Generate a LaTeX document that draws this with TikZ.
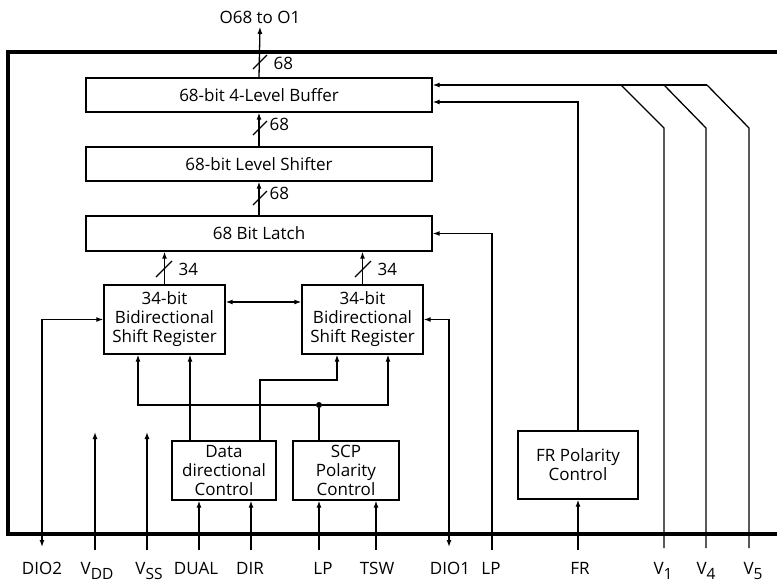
\documentclass[tikz,border=0pt]{standalone}
\usepackage{fontspec}
\setmainfont{Open Sans}
\usetikzlibrary{arrows.meta}
\newcommand{\lowsub}[1]{\raisebox{-5pt}{\fontsize{15.5}{15.5}\selectfont #1}}

\begin{document}
\begin{tikzpicture}[
	x=1pt, y=-1pt,
	font=\fontsize{17}{19}\selectfont,
	block/.style={
		draw,
		line width=1.4pt,
		align=center,
		inner sep=0pt
	},
	% connector styles
	wire/.style={
		draw,
		line width=1.3pt
	},
	sig/.style={wire, -{Latex[length=7pt,width=5pt]}},
	bisig/.style={wire, {Latex[length=7pt,width=5pt]}-{Latex[length=7pt,width=5pt]}},
	frame/.style={draw, line width=3.2pt},
	pin/.style={inner sep=0pt, anchor=base},
	junction/.style={circle, fill, inner sep=0pt, minimum size=6pt}
	]
	
	\useasboundingbox (0,0) rectangle (777,584);
	
	% ================= FRAME =================
	\draw[frame] (790,52) -- (8,52) -- (8,534) -- (790,534);
	
	% ================= NODES =================
	\node[block, minimum width=346pt, minimum height=34pt] (buf) at (259,95) {68-bit 4-Level Buffer};
	\node[block, minimum width=346pt, minimum height=34pt] (shift) at (259,164) {68-bit Level Shifter};
	\node[block, minimum width=346pt, minimum height=35pt] (latch) at (259,233.5) {68 Bit Latch};
	
	\node[block, minimum width=121pt, minimum height=69pt] (srl) at (164.5,319.5) {34-bit\\Bidirectional\\Shift Register};
	\node[block, minimum width=121pt, minimum height=69pt] (srr) at (362.5,319.5) {34-bit\\Bidirectional\\Shift Register};
	
	\node[block, minimum width=104pt, minimum height=59pt] (ddc) at (224,470.5) {Data\\directional\\Control};
	\node[block, minimum width=106pt, minimum height=59pt] (scp) at (346,470.5) {SCP\\Polarity\\Control};
	\node[block, minimum width=120pt, minimum height=68pt] (frp) at (578,465) {FR Polarity\\Control};
	
	\node (out) at (260,17) {O68 to O1};
	\node[junction] (jn) at (319,405) {};
	
	% pin ends
	\coordinate (dio2) at (42,547);
	\coordinate (vdd) at (95,550);
	\coordinate (vss) at (147,550);
	\coordinate (dual) at (199,550);
	\coordinate (dir) at (251,550);
	\coordinate (lp1) at (319,550);
	\coordinate (tsw) at (376,550);
	\coordinate (dio1) at (449,547);
	\coordinate (lp2) at (492,550);
	\coordinate (fr) at (578,550);
	\coordinate (v1) at (664,548);
	\coordinate (v4) at (706,548);
	\coordinate (v5) at (749,548);
	\coordinate (vtop) at (707,85);
	\coordinate (ddbend) at (337,380);
	
	% pin labels
	\node[pin] at (42,574) {DIO2};
	\node[pin] at (97,574) {V\lowsub{DD}};
	\node[pin] at (149,574) {V\lowsub{SS}};
	\node[pin] at (196,574) {DUAL};
	\node[pin] at (250,574) {DIR};
	\node[pin] at (323,574) {LP};
	\node[pin] at (377,574) {TSW};
	\node[pin] at (450,574) {DIO1};
	\node[pin] at (491,574) {LP};
	\node[pin] at (580,574) {FR};
	\node[pin] at (663,574) {V\lowsub{1}};
	\node[pin] at (706,574) {V\lowsub{4}};
	\node[pin] at (753,574) {V\lowsub{5}};
	
	% ================= EDGES =================
	\draw[sig] (buf.north) -- (out.south);
	\draw[sig] (shift.north) -- (buf.south);
	\draw[sig] (latch.north) -- (shift.south);
	\draw[sig] (srl.north) -- (srl.north |- latch.south);
	\draw[sig] (srr.north) -- (srr.north |- latch.south);
	\draw[bisig] ([yshift=17.5pt]srl.east) -- ([yshift=17.5pt]srr.west);
	
	% bus width marks
	\draw[wire] (260,62) ++(-7,7) -- ++(14,-14) ++(6,8) node[anchor=west, inner sep=0pt] {68};
	\draw[wire] (260,128) ++(-7,7) -- ++(14,-14) ++(2,3) node[anchor=west, inner sep=0pt] {68};
	\draw[wire] (260,198) ++(-7,7) -- ++(14,-14) ++(2,2) node[anchor=west, inner sep=0pt] {68};
	\draw[wire] (164,269) ++(-8,8) -- ++(16,-16) ++(6,8) node[anchor=west, inner sep=0pt] {34};
	\draw[wire] (363,269) ++(-8,8) -- ++(16,-16) ++(6,8) node[anchor=west, inner sep=0pt] {34};
	
	% shift register data lines
	\draw[bisig] (dio2) |- (srl.west);
	\draw[bisig] (dio1) |- (srr.east);
	\draw[sig] (lp2) |- (latch.east);
	
	% supply pins
	\draw[sig] (vdd) -- (95,432);
	\draw[sig] (vss) -- (147,432);
	
	% control inputs
	\draw[sig] (dual) -- (dual |- ddc.south);
	\draw[sig] (dir) -- (dir |- ddc.south);
	\draw[sig] (lp1) -- (lp1 |- scp.south);
	\draw[sig] (tsw) -- (tsw |- scp.south);
	\draw[sig] (fr) -- (frp.south);
	
	% direction control
	\draw[sig] ([xshift=-34pt]ddc.north) -- ([xshift=-34pt]ddc.north |- srl.south);
	\draw[sig] ([xshift=36pt]ddc.north) |- (ddbend) -- (ddbend |- srr.south);
	
	% shift clock
	\draw[wire] (jn |- scp.north) -- (jn);
	\draw[sig] (jn) -| ([xshift=-26.5pt]srl.south);
	\draw[sig] (jn) -| ([xshift=25.5pt]srr.south);
	
	% FR to buffer
	\draw[sig] (frp.north) |- ([yshift=-7pt]buf.east);
	
	% level voltages
	\draw[wire] (v1) -- (664,128) -- (621,85);
	\draw[wire] (v4) -- (706,128) -- (664,85);
	\draw[wire] (v5) -- (749,128) -- (vtop);
	\draw[sig] (vtop) -- ([yshift=10pt]buf.east);
	
\end{tikzpicture}
\end{document}
